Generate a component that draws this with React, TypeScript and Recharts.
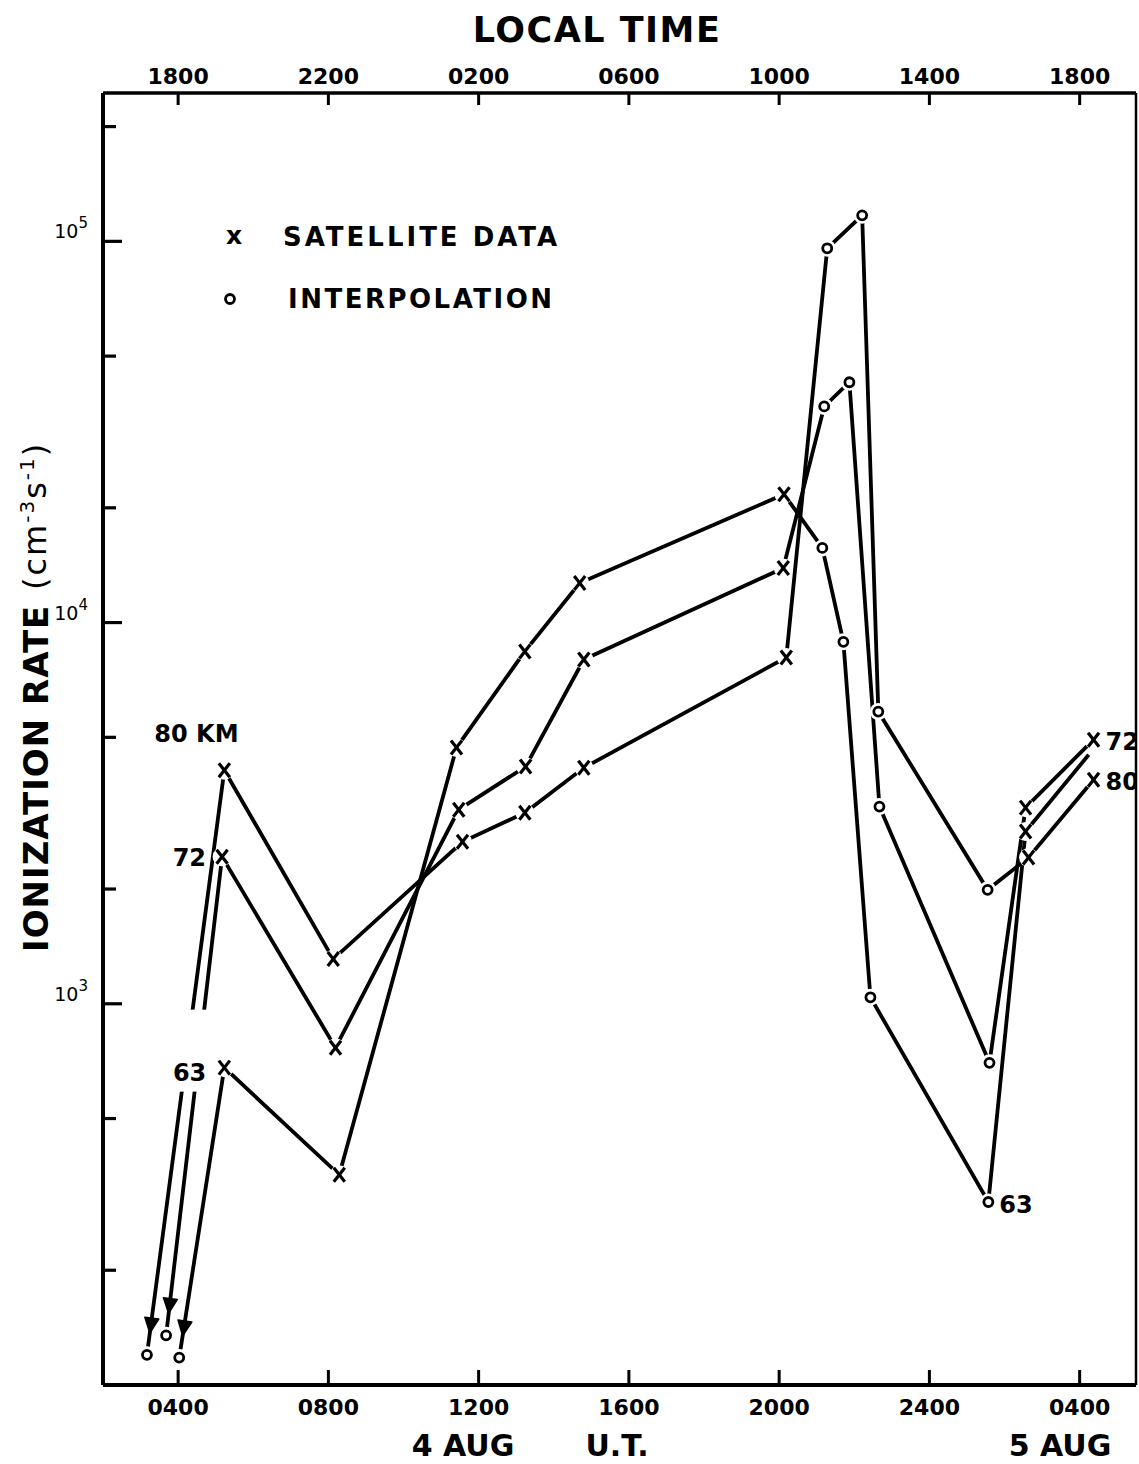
import React from 'react';
import { LineChart, Line, XAxis, YAxis } from 'recharts';

// Universal time (hours since 00 UT, 4 Aug) at which each value is plotted
const HOURS_80 = [3.17, 5.23, 8.13, 11.57, 13.23, 14.8, 20.19, 21.28, 22.21, 22.64, 25.55, 26.64, 28.37];
const RATE_80 = [120, 4100, 1310, 2660, 3170, 4160, 8100, 95900, 117000, 5840, 1990, 2420, 3870];
const MARK_80 = ['o', 'x', 'x', 'x', 'x', 'x', 'x', 'o', 'o', 'o', 'o', 'x', 'x'];

const HOURS_72 = [3.68, 5.17, 8.19, 11.47, 13.25, 14.8, 20.11, 21.2, 21.87, 22.67, 25.6, 26.56, 28.37];
const RATE_72 = [135, 2430, 767, 3230, 4190, 8000, 13900, 36900, 42700, 3290, 700, 3270, 4930];
const MARK_72 = ['o', 'x', 'x', 'x', 'x', 'x', 'x', 'o', 'o', 'o', 'o', 'x', 'x'];

const HOURS_63 = [4.03, 5.23, 8.29, 11.41, 13.23, 14.69, 20.13, 21.15, 21.71, 22.43, 25.57, 26.56, 28.24];
const RATE_63 = [118, 680, 356, 4700, 8400, 12700, 21700, 15700, 8900, 1040, 302, 2830, 4500];
const MARK_63 = ['o', 'x', 'x', 'x', 'x', 'x', 'x', 'o', 'o', 'o', 'o', 'x', 'n'];

const UT_TICKS = [4, 8, 12, 16, 20, 24, 28];
const UT_LABELS = ['0400', '0800', '1200', '1600', '2000', '2400', '0400'];
const LT_LABELS = ['1800', '2200', '0200', '0600', '1000', '1400', '1800'];
const RATE_TICKS = [200, 500, 1000, 2000, 5000, 10000, 20000, 50000, 100000, 200000];
const LABELED_RATES = [1000, 10000, 100000];

// Text annotations attached to a series point (series, point index, text)
const NOTES = [
  { series: '80', index: 1, text: '80 KM' },
  { series: '72', index: 1, text: '72' },
  { series: '63', index: 1, text: '63' },
  { series: '72', index: 12, text: '72' },
  { series: '80', index: 12, text: '80' },
  { series: '63', index: 10, text: '63' },
];

const rows = (h: number[], v: number[], m: string[]) => h.map((x, i) => ({ h: x, v: v[i], m: m[i] }));
const DATA_80 = rows(HOURS_80, RATE_80, MARK_80);
const DATA_72 = rows(HOURS_72, RATE_72, MARK_72);
const DATA_63 = rows(HOURS_63, RATE_63, MARK_63);

const FONT = '"DejaVu Sans", sans-serif';

const notePlacement = (series: string, index: number) => {
  if (series === '80' && index === 1) return { dx: -70, dy: -28, anchor: 'start' as const, back: false };
  if (series === '72' && index === 1) return { dx: -16, dy: 9, anchor: 'end' as const, back: false };
  if (series === '63' && index === 1) return { dx: -18, dy: 13, anchor: 'end' as const, back: true };
  if (index === 12) return { dx: 12, dy: 10, anchor: 'start' as const, back: false };
  return { dx: 11, dy: 11, anchor: 'start' as const, back: false };
};

const makeDot = (series: string) => (props: any) => {
  const { cx, cy, index, payload, points } = props;
  if (cx == null || cy == null) return <g key={`d-${series}-${index}`} />;
  const m = payload.m;
  const els: React.ReactNode[] = [];
  const note = NOTES.find((n) => n.series === series && n.index === index);
  if (note) {
    const p = notePlacement(series, index);
    if (p.back) {
      els.push(<rect key="bk" x={cx - 65} y={cy - 58} width={52} height={82} fill="#fff" />);
    }
  }
  if (m === 'x') {
    els.push(<circle key="h" cx={cx} cy={cy} r={9.5} fill="#fff" />);
    els.push(<line key="a" x1={cx - 5.5} y1={cy - 7} x2={cx + 5.5} y2={cy + 7} stroke="#000" strokeWidth={3.2} />);
    els.push(<line key="b" x1={cx + 5.5} y1={cy - 7} x2={cx - 5.5} y2={cy + 7} stroke="#000" strokeWidth={3.2} />);
  } else if (m === 'o') {
    els.push(<circle key="h" cx={cx} cy={cy} r={8.5} fill="#fff" />);
    els.push(<circle key="c" cx={cx} cy={cy} r={4.5} fill="#fff" stroke="#000" strokeWidth={2.8} />);
  }
  if (index === 0) {
    let ux = 0;
    let uy = 1;
    if (points && points[1]) {
      const dx = cx - points[1].x;
      const dy = cy - points[1].y;
      const l = Math.hypot(dx, dy) || 1;
      ux = dx / l;
      uy = dy / l;
    }
    const tipX = cx - ux * 22;
    const tipY = cy - uy * 22;
    const bx = tipX - ux * 15;
    const by = tipY - uy * 15;
    const px = -uy * 7;
    const py = ux * 7;
    els.push(
      <polygon key="ar" points={`${tipX},${tipY} ${bx + px},${by + py} ${bx - px},${by - py}`} fill="#000" stroke="#000" strokeWidth={1.5} strokeLinejoin="round" />
    );
  }
  if (note) {
    const p = notePlacement(series, index);
    els.push(
      <text key="t" x={cx + p.dx} y={cy + p.dy} textAnchor={p.anchor} fontFamily={FONT} fontWeight="bold" fontSize={24} fill="#000">
        {note.text}
      </text>
    );
  }
  return <g key={`d-${series}-${index}`}>{els}</g>;
};

const LeftTick = (props: any) => {
  const { x, y, payload } = props;
  const v = payload.value;
  const major = LABELED_RATES.includes(v);
  const exp = Math.round(Math.log10(v));
  return (
    <g>
      <line x1={x} x2={x + (major ? 19 : 13)} y1={y} y2={y} stroke="#000" strokeWidth={3.2} />
      {major && (
        <text x={x - 15} y={y - 3} textAnchor="end" fontFamily={FONT} fontSize={19} fill="#000">
          10
          <tspan dy={-10} fontSize={15}>{exp}</tspan>
        </text>
      )}
    </g>
  );
};

const BottomTick = (props: any) => {
  const { x, y, payload } = props;
  const i = UT_TICKS.indexOf(payload.value);
  return (
    <g>
      <line x1={x} x2={x} y1={y} y2={y - 15} stroke="#000" strokeWidth={3} />
      <text x={x} y={y + 30} textAnchor="middle" fontFamily={FONT} fontWeight="bold" fontSize={22} fill="#000">
        {UT_LABELS[i]}
      </text>
    </g>
  );
};

const TopTick = (props: any) => {
  const { x, y, payload } = props;
  const i = UT_TICKS.indexOf(payload.value);
  return (
    <g>
      <line x1={x} x2={x} y1={y} y2={y + 12} stroke="#000" strokeWidth={3} />
      <text x={x} y={y - 9} textAnchor="middle" fontFamily={FONT} fontWeight="bold" fontSize={22} fill="#000">
        {LT_LABELS[i]}
      </text>
    </g>
  );
};

const W = 1139;
const H = 1460;

export default function App() {
  return (
    <div style={{ position: 'absolute', left: 0, top: 0, width: W, height: 1464, background: '#fff', overflow: 'hidden' }}>
      <LineChart width={W} height={H} margin={{ top: 0, right: 2, bottom: 0, left: 0 }}>
        <XAxis
          xAxisId="b"
          type="number"
          dataKey="h"
          domain={[2, 29.5]}
          allowDataOverflow
          ticks={UT_TICKS}
          interval={0}
          orientation="bottom"
          height={75}
          tickSize={0}
          tickMargin={0}
          tickLine={false}
          tick={<BottomTick />}
          axisLine={{ stroke: '#000', strokeWidth: 4 }}
        />
        <XAxis
          xAxisId="t"
          type="number"
          dataKey="h"
          domain={[2, 29.5]}
          allowDataOverflow
          ticks={UT_TICKS}
          interval={0}
          orientation="top"
          height={93}
          tickSize={0}
          tickMargin={0}
          tickLine={false}
          tick={<TopTick />}
          axisLine={{ stroke: '#000', strokeWidth: 3.5 }}
        />
        <YAxis
          yAxisId="l"
          type="number"
          scale="log"
          domain={[100, 245000]}
          allowDataOverflow
          ticks={RATE_TICKS}
          interval={0}
          width={103}
          tickSize={0}
          tickMargin={0}
          tickLine={false}
          tick={<LeftTick />}
          axisLine={{ stroke: '#000', strokeWidth: 4 }}
        />
        <YAxis
          yAxisId="r"
          orientation="right"
          type="number"
          scale="log"
          domain={[100, 245000]}
          allowDataOverflow
          width={1}
          tick={false}
          tickLine={false}
          axisLine={{ stroke: '#000', strokeWidth: 2.5 }}
        />
        <Line data={DATA_80} dataKey="v" xAxisId="b" yAxisId="l" type="linear" stroke="#000" strokeWidth={3.8} dot={makeDot('80')} activeDot={false} isAnimationActive={false} />
        <Line data={DATA_72} dataKey="v" xAxisId="b" yAxisId="l" type="linear" stroke="#000" strokeWidth={3.8} dot={makeDot('72')} activeDot={false} isAnimationActive={false} />
        <Line data={DATA_63} dataKey="v" xAxisId="b" yAxisId="l" type="linear" stroke="#000" strokeWidth={3.8} dot={makeDot('63')} activeDot={false} isAnimationActive={false} />
      </LineChart>
      <svg width={W} height={1464} style={{ position: 'absolute', left: 0, top: 0, pointerEvents: 'none' }}>
        <text x={597} y={42} textAnchor="middle" fontFamily={FONT} fontWeight="bold" fontSize={35} letterSpacing={1.5} fill="#000">
          LOCAL TIME
        </text>
        <text x={234} y={244} textAnchor="middle" fontFamily={FONT} fontWeight="bold" fontSize={25} fill="#000">
          x
        </text>
        <text x={283} y={246} fontFamily={FONT} fontWeight="bold" fontSize={26} letterSpacing={3} fill="#000">
          SATELLITE DATA
        </text>
        <circle cx={230} cy={299} r={4.5} fill="#fff" stroke="#000" strokeWidth={2.8} />
        <text x={288} y={308} fontFamily={FONT} fontWeight="bold" fontSize={26} letterSpacing={2.5} fill="#000">
          INTERPOLATION
        </text>
        <text x={48} y={952} transform="rotate(-90 48 952)" fontFamily={FONT} fontWeight="bold" fontSize={34} letterSpacing={1} fill="#000">
          IONIZATION RATE
        </text>
        <text x={46} y={590} transform="rotate(-90 46 590)" fontFamily={FONT} fontSize={32} letterSpacing={2} fill="#000">
          (cm<tspan dy={-12} fontSize={20}>-3</tspan>
          <tspan dy={12}>s</tspan>
          <tspan dy={-12} fontSize={20}>-1</tspan>
          <tspan dy={12}>)</tspan>
        </text>
        <text x={463} y={1456} textAnchor="middle" fontFamily={FONT} fontWeight="bold" fontSize={30} fill="#000">
          4 AUG
        </text>
        <text x={617} y={1456} textAnchor="middle" fontFamily={FONT} fontWeight="bold" fontSize={30} fill="#000">
          U.T.
        </text>
        <text x={1060} y={1456} textAnchor="middle" fontFamily={FONT} fontWeight="bold" fontSize={30} fill="#000">
          5 AUG
        </text>
      </svg>
    </div>
  );
}
